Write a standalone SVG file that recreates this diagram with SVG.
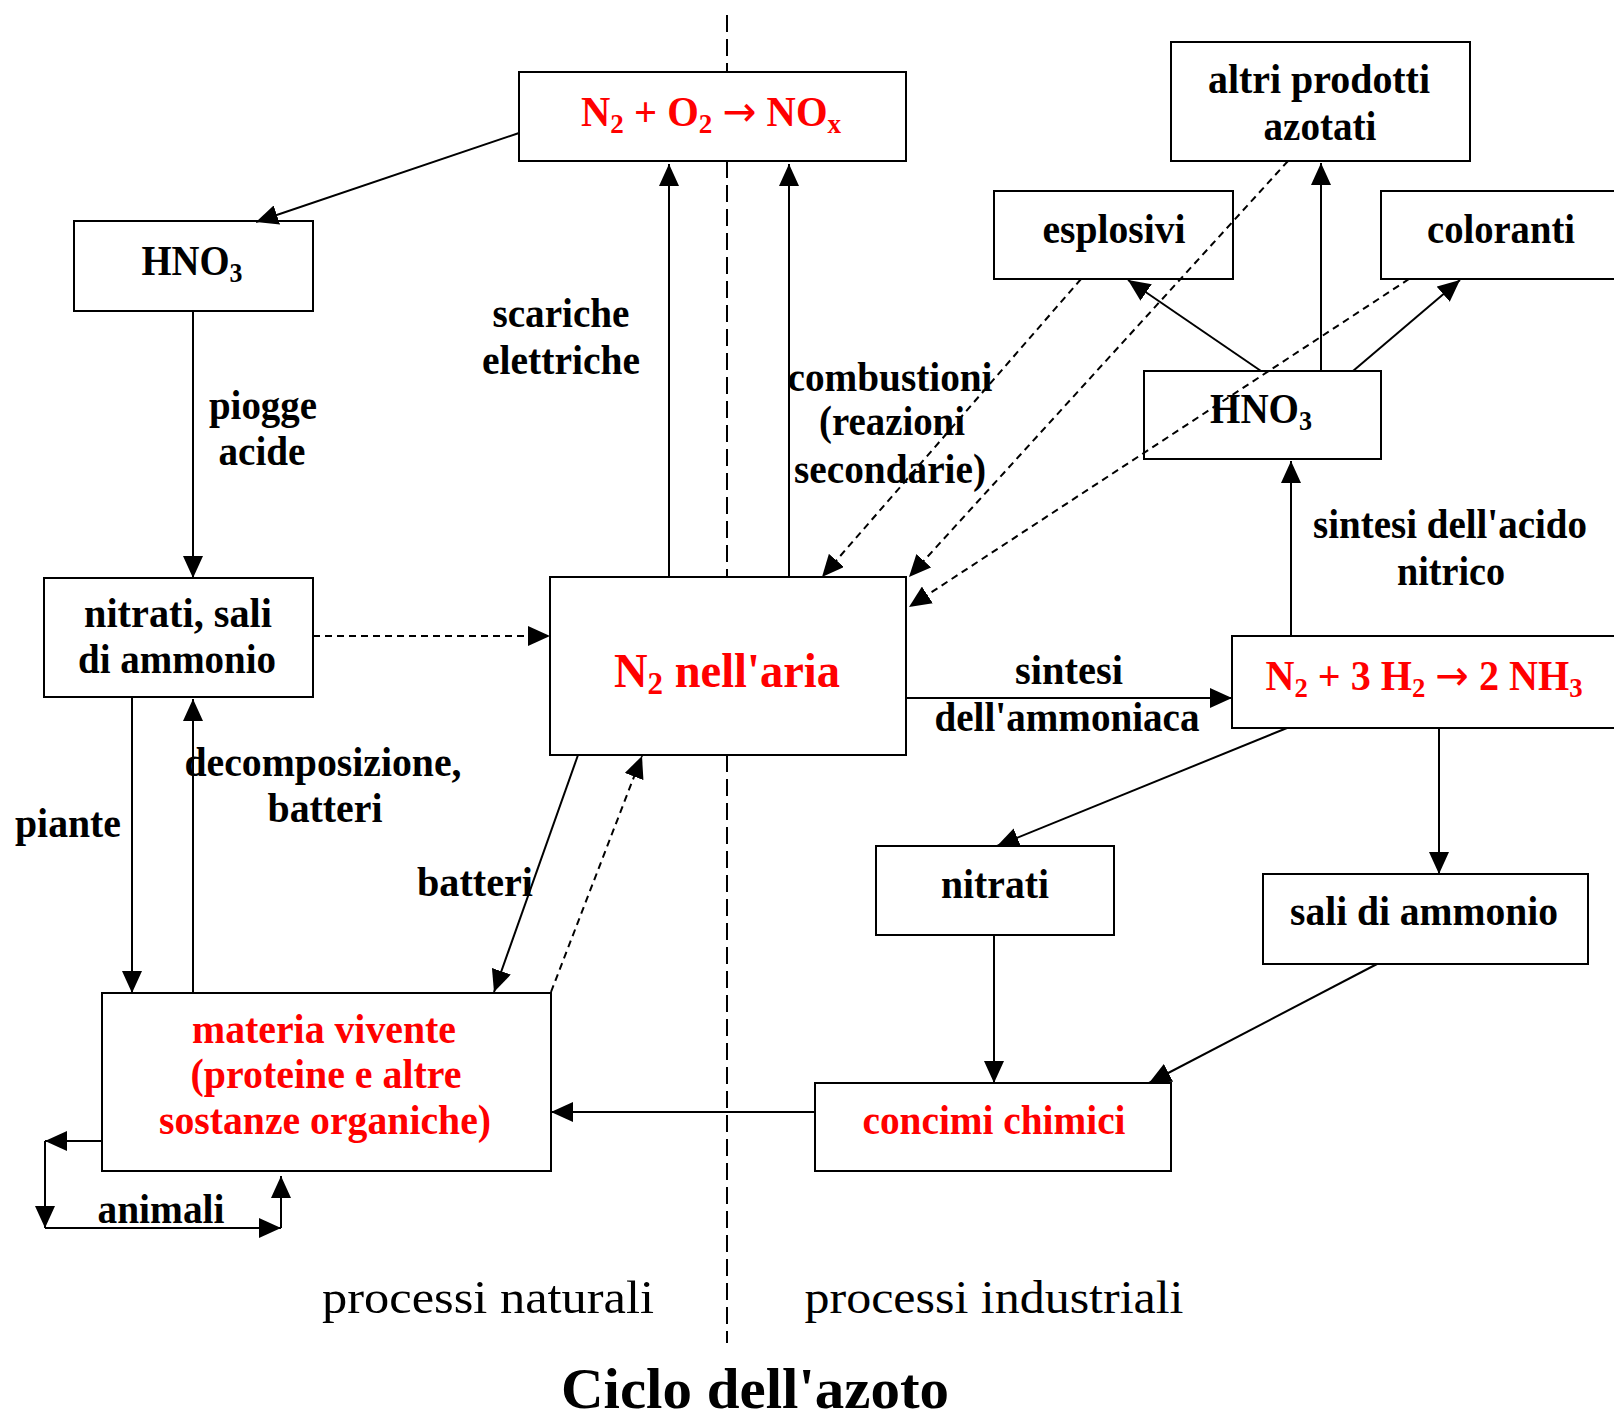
<svg xmlns="http://www.w3.org/2000/svg" width="1614" height="1419" viewBox="0 0 1614 1419">
<style>
.box{fill:none;stroke:#000;stroke-width:2}
.ln{fill:none;stroke:#000;stroke-width:2}
.ds{fill:none;stroke:#000;stroke-width:2;stroke-dasharray:7 5}
.ctr{fill:none;stroke:#000;stroke-width:2;stroke-dasharray:17 7}
.t{font-family:"Liberation Serif","Times New Roman",serif;font-weight:bold;font-size:42px;fill:#000;text-anchor:middle}
.r{fill:#ff0000}
.big{font-size:48px}
.pr{font-family:"Liberation Serif","Times New Roman",serif;font-size:46px;fill:#000;text-anchor:middle}
.ti{font-family:"Liberation Serif","Times New Roman",serif;font-weight:bold;font-size:56px;fill:#000;text-anchor:middle}
.sb{font-size:28px}
.ar{font-family:"DejaVu Sans",sans-serif;font-weight:normal}
</style>
<defs>
<marker id="ah" viewBox="0 0 22 20" refX="22" refY="10" markerWidth="22" markerHeight="20" markerUnits="userSpaceOnUse" orient="auto">
<path d="M0,0 L22,10 L0,20 z" fill="#000"/>
</marker>
</defs>
<rect width="1614" height="1419" fill="#fff"/>

<g id="connectors">
<line class="ctr" x1="727" y1="15" x2="727" y2="72"/>
<line class="ctr" x1="727" y1="161" x2="727" y2="577"/>
<line class="ctr" x1="727" y1="755" x2="727" y2="1343"/>
<line class="ln" x1="519" y1="133" x2="256" y2="222" marker-end="url(#ah)"/>
<line class="ln" x1="193" y1="311" x2="193" y2="578" marker-end="url(#ah)"/>
<line class="ds" x1="313" y1="636" x2="550" y2="636" marker-end="url(#ah)"/>
<line class="ln" x1="669" y1="577" x2="669" y2="164" marker-end="url(#ah)"/>
<line class="ln" x1="789" y1="577" x2="789" y2="164" marker-end="url(#ah)"/>
<line class="ln" x1="906" y1="698" x2="1232" y2="698" marker-end="url(#ah)"/>
<line class="ln" x1="1291" y1="636" x2="1291" y2="461" marker-end="url(#ah)"/>
<line class="ln" x1="1321" y1="371" x2="1321" y2="163" marker-end="url(#ah)"/>
<line class="ln" x1="1261" y1="371" x2="1128" y2="280" marker-end="url(#ah)"/>
<line class="ln" x1="1353" y1="371" x2="1460" y2="280" marker-end="url(#ah)"/>
<line class="ds" x1="1081" y1="279" x2="822" y2="577" marker-end="url(#ah)"/>
<line class="ds" x1="1288" y1="161" x2="909" y2="577" marker-end="url(#ah)"/>
<line class="ds" x1="1409" y1="279" x2="909" y2="607" marker-end="url(#ah)"/>
<line class="ln" x1="1287" y1="728" x2="997" y2="846" marker-end="url(#ah)"/>
<line class="ln" x1="1439" y1="728" x2="1439" y2="874" marker-end="url(#ah)"/>
<line class="ln" x1="1377" y1="964" x2="1149" y2="1083" marker-end="url(#ah)"/>
<line class="ln" x1="994" y1="935" x2="994" y2="1083" marker-end="url(#ah)"/>
<line class="ln" x1="815" y1="1112" x2="551" y2="1112" marker-end="url(#ah)"/>
<line class="ln" x1="132" y1="697" x2="132" y2="993" marker-end="url(#ah)"/>
<line class="ln" x1="193" y1="993" x2="193" y2="699" marker-end="url(#ah)"/>
<line class="ln" x1="578" y1="755" x2="494" y2="992" marker-end="url(#ah)"/>
<line class="ds" x1="551" y1="992" x2="642" y2="756" marker-end="url(#ah)"/>
<line class="ln" x1="102" y1="1141" x2="45" y2="1141" marker-end="url(#ah)"/>
<line class="ln" x1="45" y1="1141" x2="45" y2="1228" marker-end="url(#ah)"/>
<line class="ln" x1="45" y1="1228" x2="281" y2="1228" marker-end="url(#ah)"/>
<line class="ln" x1="281" y1="1228" x2="281" y2="1176" marker-end="url(#ah)"/>
</g>

<g id="node-nox">
<rect class="box" x="519" y="72" width="387" height="89"/>
<text class="t r" x="711" y="126" textLength="260" lengthAdjust="spacingAndGlyphs">N<tspan class="sb" dy="7">2</tspan><tspan dy="-7"> + O</tspan><tspan class="sb" dy="7">2</tspan><tspan dy="-7"> </tspan><tspan class="ar">→</tspan><tspan> NO</tspan><tspan class="sb" dy="7">x</tspan></text>
</g>
<g id="node-hno3-left">
<rect class="box" x="74" y="221" width="239" height="90"/>
<text class="t" x="192" y="275" textLength="101" lengthAdjust="spacingAndGlyphs" font-weight="normal">HNO<tspan class="sb" dy="7">3</tspan></text>
</g>
<g id="node-altri">
<rect class="box" x="1171" y="42" width="299" height="119"/>
<text class="t" x="1319" y="93" textLength="222" lengthAdjust="spacingAndGlyphs">altri prodotti</text>
<text class="t" x="1320" y="140" textLength="113" lengthAdjust="spacingAndGlyphs">azotati</text>
</g>
<g id="node-esplosivi">
<rect class="box" x="994" y="191" width="239" height="88"/>
<text class="t" x="1114" y="243" textLength="143" lengthAdjust="spacingAndGlyphs">esplosivi</text>
</g>
<g id="node-coloranti">
<rect class="box" x="1381" y="191" width="240" height="88"/>
<text class="t" x="1501" y="243" textLength="148" lengthAdjust="spacingAndGlyphs">coloranti</text>
</g>
<g id="node-hno3-right">
<rect class="box" x="1144" y="371" width="237" height="88"/>
<text class="t" x="1261" y="423" textLength="102" lengthAdjust="spacingAndGlyphs" font-weight="normal">HNO<tspan class="sb" dy="7">3</tspan></text>
</g>
<g id="node-nitrati-sali">
<rect class="box" x="44" y="578" width="269" height="119"/>
<text class="t" x="178" y="627" textLength="188" lengthAdjust="spacingAndGlyphs">nitrati, sali</text>
<text class="t" x="177" y="673" textLength="198" lengthAdjust="spacingAndGlyphs">di ammonio</text>
</g>
<g id="node-n2-aria">
<rect class="box" x="550" y="577" width="356" height="178"/>
<text class="t r big" x="727" y="687" textLength="226" lengthAdjust="spacingAndGlyphs">N<tspan font-size="32" dy="7">2</tspan><tspan dy="-7"> nell'aria</tspan></text>
</g>
<g id="node-nh3">
<rect class="box" x="1232" y="636" width="390" height="92"/>
<text class="t r" x="1424" y="690" textLength="317" lengthAdjust="spacingAndGlyphs">N<tspan class="sb" dy="7">2</tspan><tspan dy="-7"> + 3 H</tspan><tspan class="sb" dy="7">2</tspan><tspan dy="-7"> </tspan><tspan class="ar">→</tspan><tspan> 2 NH</tspan><tspan class="sb" dy="7">3</tspan></text>
</g>
<g id="node-nitrati">
<rect class="box" x="876" y="846" width="238" height="89"/>
<text class="t" x="995" y="898" textLength="108" lengthAdjust="spacingAndGlyphs">nitrati</text>
</g>
<g id="node-sali">
<rect class="box" x="1263" y="874" width="325" height="90"/>
<text class="t" x="1424" y="925" textLength="268" lengthAdjust="spacingAndGlyphs">sali di ammonio</text>
</g>
<g id="node-materia">
<rect class="box" x="102" y="993" width="449" height="178"/>
<text class="t r" x="324" y="1043" textLength="264" lengthAdjust="spacingAndGlyphs">materia vivente</text>
<text class="t r" x="326" y="1088" textLength="271" lengthAdjust="spacingAndGlyphs">(proteine e altre</text>
<text class="t r" x="325" y="1134" textLength="332" lengthAdjust="spacingAndGlyphs">sostanze organiche)</text>
</g>
<g id="node-concimi">
<rect class="box" x="815" y="1083" width="356" height="88"/>
<text class="t r" x="994" y="1134" textLength="263" lengthAdjust="spacingAndGlyphs">concimi chimici</text>
</g>

<g id="labels">
<text class="t" x="263" y="419" textLength="108" lengthAdjust="spacingAndGlyphs">piogge</text>
<text class="t" x="262" y="465" textLength="87" lengthAdjust="spacingAndGlyphs">acide</text>
<text class="t" x="561" y="327" textLength="137" lengthAdjust="spacingAndGlyphs">scariche</text>
<text class="t" x="561" y="374" textLength="158" lengthAdjust="spacingAndGlyphs">elettriche</text>
<text class="t" x="890" y="391" textLength="205" lengthAdjust="spacingAndGlyphs">combustioni</text>
<text class="t" x="892" y="435" textLength="146" lengthAdjust="spacingAndGlyphs">(reazioni</text>
<text class="t" x="890" y="483" textLength="192" lengthAdjust="spacingAndGlyphs">secondarie)</text>
<text class="t" x="1450" y="538" textLength="274" lengthAdjust="spacingAndGlyphs">sintesi dell'acido</text>
<text class="t" x="1451" y="585" textLength="108" lengthAdjust="spacingAndGlyphs">nitrico</text>
<text class="t" x="1069" y="684" textLength="108" lengthAdjust="spacingAndGlyphs">sintesi</text>
<text class="t" x="1067" y="731" textLength="265" lengthAdjust="spacingAndGlyphs">dell'ammoniaca</text>
<text class="t" x="68" y="837" textLength="106" lengthAdjust="spacingAndGlyphs">piante</text>
<text class="t" x="323" y="776" textLength="277" lengthAdjust="spacingAndGlyphs">decomposizione,</text>
<text class="t" x="325" y="822" textLength="115" lengthAdjust="spacingAndGlyphs">batteri</text>
<text class="t" x="475" y="896" textLength="116" lengthAdjust="spacingAndGlyphs">batteri</text>
<text class="t" x="161" y="1223" textLength="127" lengthAdjust="spacingAndGlyphs">animali</text>
<text class="pr" x="488" y="1313" textLength="332" lengthAdjust="spacingAndGlyphs">processi naturali</text>
<text class="pr" x="994" y="1313" textLength="379" lengthAdjust="spacingAndGlyphs">processi industriali</text>
<text class="ti" x="755" y="1408" textLength="388" lengthAdjust="spacingAndGlyphs">Ciclo dell'azoto</text>
</g>
</svg>
